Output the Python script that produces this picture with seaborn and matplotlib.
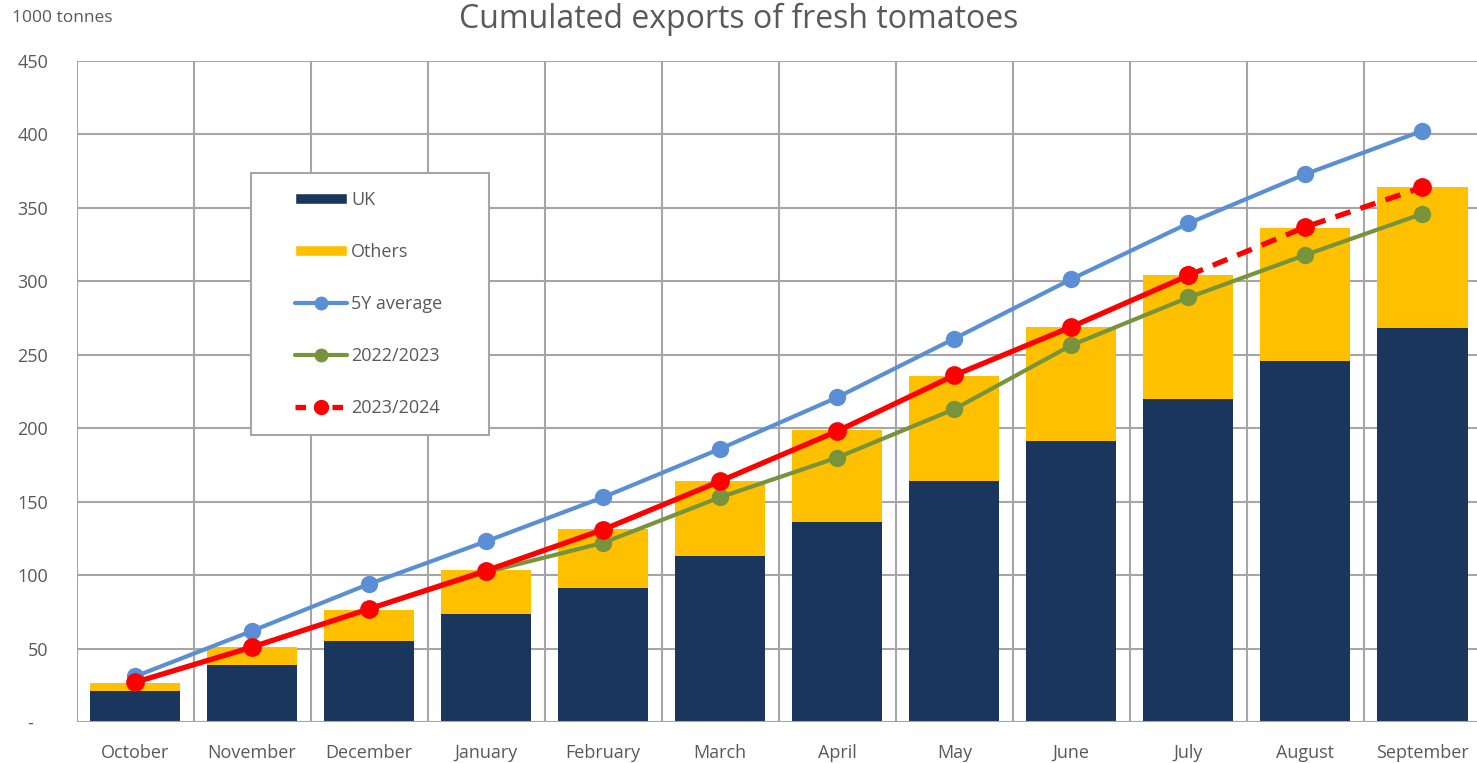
import matplotlib
matplotlib.use("Agg")
import matplotlib.pyplot as plt
import seaborn as sns
import pandas as pd
import numpy as np
from matplotlib.patches import Patch, Rectangle
from matplotlib.lines import Line2D

sns.set_theme(style="white")
plt.rcParams["font.family"] = ["Open Sans", "DejaVu Sans"]

# Data (1000 tonnes, cumulated)
months = ["October", "November", "December", "January", "February", "March",
          "April", "May", "June", "July", "August", "September"]
uk = [21, 39, 55, 73.5, 91, 113, 136, 164, 191, 220, 246, 268]
total = [26.5, 51, 76, 103.5, 131.5, 164, 199, 235.5, 269, 304, 336.5, 364]
avg_5y = [31, 62, 94, 123, 153, 186, 221, 261, 301.5, 339.5, 373, 402.5]
y2022 = [27, 51, 77, 102, 122, 153, 180, 213, 256.5, 289, 318, 346]
y2023 = [27, 51, 77, 103, 131, 164, 198, 236, 269, 304, 337, 364]
solid_until = "July"  # 2023/2024 becomes a dashed projection after this month

NAVY = "#1b365d"
YELLOW = "#ffc000"
BLUE = "#5b8fd5"
GREEN = "#77933c"
RED = "#ff0000"
GRID = "#a6a6a6"
TXT = "#595959"

df = pd.DataFrame({"Month": months, "UK": uk, "Total": total,
                   "5Y": avg_5y, "Y22": y2022, "Y23": y2023})
df["pos"] = np.arange(len(df))
cut = months.index(solid_until)

fig = plt.figure(figsize=(14.77, 7.63), dpi=100)
ax = fig.add_axes([76.5 / 1477, 41 / 763, (1481 - 76.5) / 1477, 661 / 763])

# stacked bars: total (Others on top) then UK over it
sns.barplot(data=df, x="Month", y="Total", color=YELLOW, width=0.77,
            saturation=1, linewidth=0, ax=ax, zorder=2)
sns.barplot(data=df, x="Month", y="UK", color=NAVY, width=0.77,
            saturation=1, linewidth=0, ax=ax, zorder=2)

# lines
sns.lineplot(data=df, x="pos", y="5Y", color=BLUE, lw=3, marker="o",
             markersize=12.5, markeredgewidth=0, ax=ax, zorder=4)
sns.lineplot(data=df, x="pos", y="Y22", color=GREEN, lw=3, marker="o",
             markersize=12.5, markeredgewidth=0, ax=ax, zorder=5)
sns.lineplot(data=df.iloc[:cut + 1], x="pos", y="Y23", color=RED, lw=3.8,
             marker="o", markersize=13.5, markeredgewidth=0, ax=ax, zorder=6)
sns.lineplot(data=df.iloc[cut:], x="pos", y="Y23", color=RED, lw=3.8,
             linestyle=(0, (3, 2)), marker="o", markersize=13.5,
             markeredgewidth=0, ax=ax, zorder=6)

ax.set_xlim(-0.5, len(months) - 0.5)
ax.set_ylim(0, 450)
ax.set_yticks(range(0, 451, 50))
ax.set_yticklabels(["-   "] + [str(v) for v in range(50, 451, 50)])
ax.set_xticks(range(len(months)))
ax.set_xticklabels(months)
ax.set_xlabel("")
ax.set_ylabel("")
ax.tick_params(axis="both", length=0, labelsize=13, colors=TXT)
ax.tick_params(axis="x", pad=16)
ax.tick_params(axis="y", pad=20.5)

# grid: horizontal at ticks, vertical between categories
ax.set_axisbelow(True)
ax.yaxis.grid(True, color=GRID, lw=1.5)
for b in np.arange(-0.5, len(months), 1.0):
    ax.axvline(b, color=GRID, lw=1.5, zorder=0)
for s in ax.spines.values():
    s.set_visible(False)
ax.axhline(0, color=GRID, lw=1.5, zorder=3)

fig.text(0.5, 1 - 28 / 763, "Cumulated exports of fresh tomatoes",
         ha="center", va="baseline", fontsize=23, color=TXT)
fig.text(12 / 1477, 1 - 18 / 763, "1000 tonnes", ha="left", va="center",
         fontsize=12.5, color=TXT)

# legend box
fig.patches.append(Rectangle((251 / 1477, 1 - 435 / 763), 238 / 1477, 262 / 763,
                             transform=fig.transFigure, facecolor="white",
                             edgecolor=GRID, linewidth=1.5, zorder=5))
handles = [
    Patch(facecolor=NAVY, label="UK"),
    Patch(facecolor=YELLOW, label="Others"),
    Line2D([], [], color=BLUE, lw=3, marker="o", markersize=9, label="5Y average"),
    Line2D([], [], color=GREEN, lw=3, marker="o", markersize=9, label="2022/2023"),
    Line2D([], [], color=RED, lw=3.8, linestyle=(0, (2, 1.5)), marker="o",
           markersize=10, label="2023/2024"),
]
leg = fig.legend(handles=handles, loc="center left",
                 bbox_to_anchor=(295 / 1477, 1 - 304 / 763),
                 frameon=False, fontsize=13, labelspacing=1.88,
                 handlelength=2.9, handleheight=0.6, handletextpad=0.2,
                 borderpad=0, borderaxespad=0)
leg.set_zorder(6)
for t in leg.get_texts():
    t.set_color(TXT)

fig.savefig("out.png", dpi=100)
